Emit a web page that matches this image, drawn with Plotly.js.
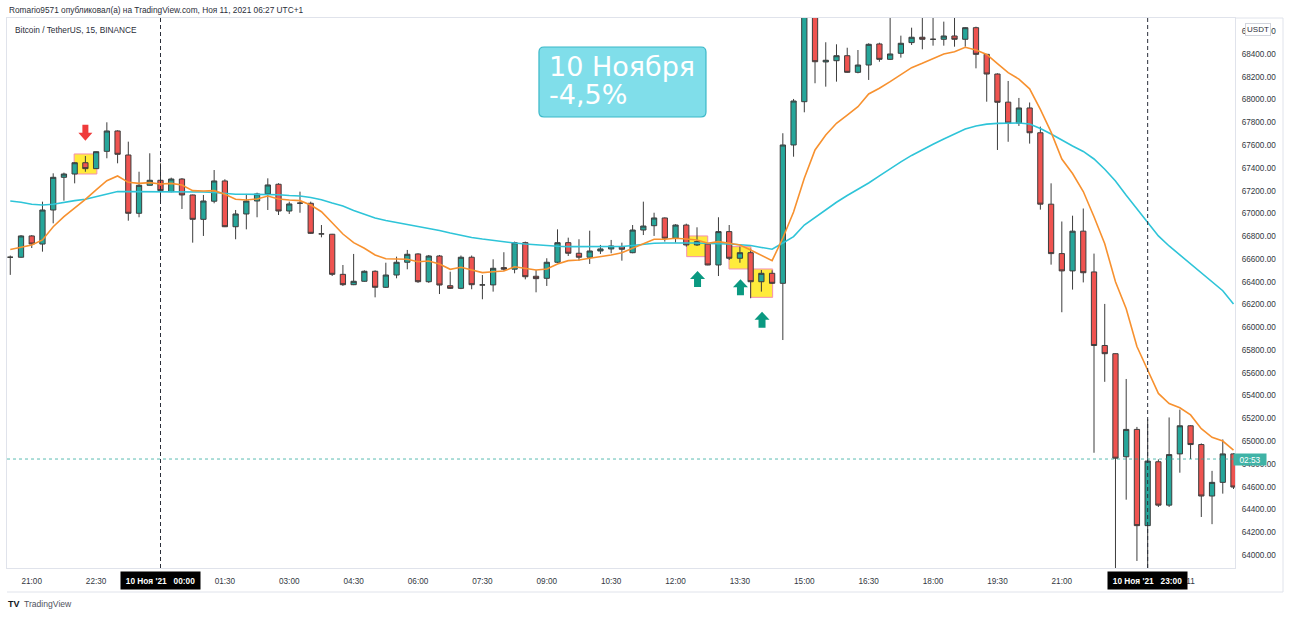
<!DOCTYPE html>
<html><head><meta charset="utf-8">
<script src="https://cdn.plot.ly/plotly-3.0.1.min.js"></script>
<style>html,body{margin:0;padding:0;background:#fff;}#chart{width:1290px;height:617px;}</style>
</head><body><div id="chart"></div>
<script>
// 15-minute candles, BTC/USDT, from 2021-11-09 20:30 to 2021-11-11 01:00 (UTC+1)
const opens = [66615,66615,66802,66731,67030,67317,67346,67445,67393,67545,67724,67513,67001,67247,
67291,67191,67302,67162,66948,67107,67285,66883,66995,67109,
67171,67256,67021,67090,67089,66820,66817,66465,66374,66404,
66492,66351,66459,66571,66644,66400,66626,66365,66342,66615,
66372,66372,66524,66510,66743,66448,66430,66571,66743,66650,
66615,66670,66688,66708,66655,66854,66892,66960,66782,66898,
66723,66731,66547,66840,66606,66655,66400,66474,66386,67601,
67981,68740,68330,68341,68385,68239,68303,68488,68353,68406,
68500,68547,68529,68529,68558,68529,68631,68397,68224,67977,
67793,67926,67708,67081,66647,66495,66844,66486,65840,65768,
64863,65103,64258,64819,64438,64888,65135,64970,64518,64638,
64888];
const highs = [66630,66810,66810,67103,67352,67358,67450,67504,67545,67800,67730,67630,67366,67528,
67440,67314,67310,67165,67162,67381,67300,67030,67171,67182,
67308,67265,67103,67191,67103,66898,66820,66547,66644,66500,
66500,66567,66620,66679,66650,66635,66635,66488,66630,66630,
66459,66597,66659,66752,66752,66503,66606,66860,66787,66773,
66848,66723,66767,66743,66898,67103,67006,66965,66905,66910,
66878,66740,66966,66898,66708,66690,66503,66500,67704,68005,
68790,68780,68503,68485,68455,68435,68494,68499,68740,68561,
68631,68740,68740,68684,68740,68635,68640,68400,68230,68163,
68014,67974,67762,67264,66929,66980,67043,66647,66205,65770,
65546,65125,65192,64840,65208,65277,65140,64980,64739,65015,
64895];
const lows = [66460,66610,66696,66664,66913,67112,67264,67366,67390,67484,67440,66936,66966,67245,
67118,67185,67039,66743,66802,67089,66880,66773,66860,66966,
67030,66986,66995,67006,66820,66790,66450,66363,66370,66400,
66263,66345,66430,66509,66390,66390,66292,66336,66335,66334,
66246,66313,66497,66474,66421,66307,66363,66565,66626,66585,
66556,66644,66650,66585,66650,66810,66802,66752,66743,66708,
66714,66545,66450,66591,66567,66255,66313,66380,65888,67498,
67888,68143,68113,68157,68235,68230,68172,68332,68347,68368,
68479,68441,68473,68473,68464,68464,68274,67981,67557,67629,
67768,67613,67033,66550,66132,66331,66394,64898,65521,63800,
64486,63948,63800,64422,64422,64723,64843,64334,64271,64539,
64580];
const closes = [66615,66802,66731,67030,67317,67346,67445,67393,67542,67724,67519,67001,67247,67291,
67200,67302,67162,66948,67109,67285,66883,66995,67109,67171,
67250,67021,67083,67090,66825,66820,66465,66374,66404,66492,
66351,66459,66571,66641,66400,66626,66371,66342,66615,66374,
66372,66518,66510,66743,66444,66427,66571,66743,66650,66615,
66670,66688,66714,66685,66854,66889,66960,66782,66898,66723,
66752,66547,66840,66606,66655,66400,66474,66386,67601,67987,
68740,68332,68345,68385,68239,68303,68485,68353,68400,68494,
68547,68529,68529,68558,68529,68631,68397,68224,67976,67793,
67926,67708,67081,66647,66495,66844,66479,65840,65768,64850,
65103,64258,64825,64438,64882,65135,64970,64518,64638,64888,
64597];
// moving averages (orange = fast, cyan = slow)
const maFast = [66683,66702,66723,66767,66883,66971,67045,67124,67206,67287,67329,67273,67264,67270,
67258,67264,67250,67200,67197,67200,67168,67124,67118,67127,
67153,67127,67118,67112,67074,67015,66918,66819,66743,66694,
66635,66602,66600,66597,66576,66582,66556,66509,66527,66503,
66480,66488,66494,66532,66518,66503,66512,66556,66585,66591,
66606,66620,66635,66655,66694,66738,66773,66773,66782,66775,
66767,66738,66752,66738,66723,66679,66635,66585,66784,67012,
67308,67557,67689,67791,67864,67937,68049,68099,68157,68216,
68280,68318,68362,68400,68420,68459,68435,68396,68316,68236,
68180,68094,67913,67714,67477,67350,67192,66971,66733,66400,
66163,65831,65625,65419,65331,65293,65230,65109,65034,65001,
64922];
const maSlow = [67109,67098,67080,67074,67080,67098,67112,67124,67147,67171,67192,67191,67191,67191,
67191,67192,67192,67191,67188,67184,67175,67168,67168,67168,
67168,67164,67157,67153,67140,67120,67091,67065,67026,66991,
66960,66938,66920,66907,66889,66872,66850,66828,66806,66789,
66775,66762,66751,66740,66731,66723,66716,66712,66708,66707,
66707,66707,66707,66709,66718,66731,66738,66740,66742,66743,
66740,66736,66736,66731,66725,66718,66701,66685,66740,66796,
66898,66964,67034,67098,67157,67210,67267,67329,67394,67452,
67509,67561,67607,67654,67697,67741,67768,67784,67791,67794,
67794,67785,67746,67697,67641,67592,67544,67478,67388,67285,
67160,67039,66923,66802,66714,66635,66556,66477,66398,66321,
66205];
const tickPos = [2,8,14,20,26,32,38,44,50,56,62,68,74,80,86,92,98,104,110];
const tickLabels = ['21:00','22:30','','01:30','03:00','04:30','06:00','07:30','09:00','10:30','12:00','13:30','15:00','16:30','18:00','19:30','21:00','','11'];
const currentPrice = 64843;

const idx = opens.map((_, k) => k);
const smallFont = 'Liberation Sans, Arial, sans-serif';

const traces = [
  {type:'candlestick', x:idx, open:opens, high:highs, low:lows, close:closes,
   increasing:{line:{color:'#3d3d3d', width:1}, fillcolor:'#26a69a'},
   decreasing:{line:{color:'#3d3d3d', width:1}, fillcolor:'#ef5350'},
   whiskerwidth:0, hoverinfo:'skip'},
  {type:'scatter', mode:'lines', x:idx, y:maSlow, line:{color:'#2ec4d8', width:1.6}, hoverinfo:'skip'},
  {type:'scatter', mode:'lines', x:idx, y:maFast, line:{color:'#f7912f', width:1.6}, hoverinfo:'skip'}
];

function box(x0,x1,y0,y1){
  return {type:'rect', xref:'x', yref:'y', x0:x0, x1:x1, y0:y0, y1:y1, layer:'below',
    fillcolor:'#ffeb3b', line:{color:'#f48fb1', width:1}};
}
function arrow(k, price, up, color){
  const p = up ? 'M0,0 L7.5,-8 L3.5,-8 L3.5,-16 L-3.5,-16 L-3.5,-8 L-7.5,-8 Z'
               : 'M0,0 L-7,8 L-3,8 L-3,16 L3,16 L3,8 L7,8 Z';
  return {type:'path', xref:'x', yref:'y', xsizemode:'pixel', ysizemode:'pixel',
    xanchor:k, yanchor:price, path:p, fillcolor:color, line:{width:0}};
}
const shapes = [
  box(5.95,8.07,67346,67522), box(63.04,65.0,66620,66802), box(66.98,69.03,66512,66708), box(69.0,71.05,66263,66512),
  arrow(7,67639,false,'#ef3b3b'), arrow(64.05,66494,true,'#0a9981'), arrow(68.05,66421,true,'#0a9981'), arrow(70.06,66137,true,'#0a9981'),
  {type:'line', xref:'x', yref:'paper', x0:14, x1:14, y0:0, y1:1, line:{color:'#2a2e39', width:1, dash:'4px,3px'}},
  {type:'line', xref:'x', yref:'paper', x0:106, x1:106, y0:0, y1:1, line:{color:'#2a2e39', width:1, dash:'4px,3px'}},
  {type:'line', xref:'paper', yref:'y', x0:0, x1:1, y0:currentPrice, y1:currentPrice, line:{color:'rgba(38,166,154,0.75)', width:1, dash:'dot'}},
  {type:'path', xref:'paper', yref:'paper', xsizemode:'pixel', ysizemode:'pixel', xanchor:0.5012, yanchor:0.8836,
   path:'M-78.5,35 L78.5,35 Q83.5,35 83.5,30 L83.5,-30 Q83.5,-35 78.5,-35 L-78.5,-35 Q-83.5,-35 -83.5,-30 L-83.5,30 Q-83.5,35 -78.5,35 Z',
   fillcolor:'#80deea', line:{color:'#3bb8c8', width:1.2}},
  {type:'line', xref:'paper', yref:'paper', x0:0, x1:1.0391, y0:-0.04364, y1:-0.04364, line:{color:'#e0e3eb', width:1}},
  {type:'line', xref:'paper', yref:'paper', x0:1.0391, x1:1.0391, y0:-0.04364, y1:1, line:{color:'#e0e3eb', width:1}},
  {type:'line', xref:'paper', yref:'paper', x0:1, x1:1.0391, y0:1, y1:1, line:{color:'#e0e3eb', width:1}}
];

const annotations = [
  {xref:'paper', yref:'paper', x:0, y:1.01364, xanchor:'left', yanchor:'middle', showarrow:false,
   text:'Romario9571 опубликовал(а) на TradingView.com, Ноя 11, 2021 06:27 UTC+1', font:{family:smallFont, size:8.3, color:'#2a2e39'}},
  {xref:'paper', yref:'paper', x:0.0046, y:0.97909, xanchor:'left', yanchor:'middle', showarrow:false,
   text:'Bitcoin / TetherUS, 15, BINANCE', font:{family:smallFont, size:8.3, color:'#2a2e39'}},
  {xref:'paper', yref:'paper', x:-0.0005, y:-0.06545, xanchor:'left', yanchor:'middle', showarrow:false,
   text:'<b>TV</b>', font:{family:smallFont, size:9, color:'#131722'}},
  {xref:'paper', yref:'paper', x:0.0123, y:-0.06545, xanchor:'left', yanchor:'middle', showarrow:false,
   text:'TradingView', font:{family:smallFont, size:8.6, color:'#50535e'}},
  {xref:'paper', yref:'paper', x:0.4395, y:(568-66.5)/550, xanchor:'left', yanchor:'middle', showarrow:false,
   text:'10 Ноября', font:{family:'DejaVu Sans, sans-serif', size:27, color:'#ffffff'}},
  {xref:'paper', yref:'paper', x:0.4395, y:(568-94.5)/550, xanchor:'left', yanchor:'middle', showarrow:false,
   text:'-4,5%', font:{family:'DejaVu Sans, sans-serif', size:27, color:'#ffffff'}},
  {xref:'x', yref:'paper', x:14, y:-0.0236, xanchor:'center', yanchor:'middle', showarrow:false,
   width:79, height:17, bgcolor:'#000000', borderpad:0,
   text:'<b>10 Ноя \'21\u00a0\u00a0\u00a000:00</b>', font:{family:smallFont, size:8.3, color:'#ffffff'}},
  {xref:'x', yref:'paper', x:106, y:-0.0236, xanchor:'center', yanchor:'middle', showarrow:false,
   width:79, height:17, bgcolor:'#000000', borderpad:0,
   text:'<b>10 Ноя \'21\u00a0\u00a0\u00a023:00</b>', font:{family:smallFont, size:8.3, color:'#ffffff'}},
  {xref:'paper', yref:'y', x:1.0122, y:currentPrice, xanchor:'center', yanchor:'middle', showarrow:false,
   width:32, height:11, bgcolor:'#3fb3a6', borderpad:0,
   text:'02:53', font:{family:smallFont, size:8.3, color:'#ffffff'}},
  {xref:'paper', yref:'paper', x:1.0187, y:0.979, xanchor:'center', yanchor:'middle', showarrow:false,
   width:24, height:11, bgcolor:'#ffffff', bordercolor:'#d1d4dc', borderwidth:1, borderpad:0,
   text:'USDT', font:{family:smallFont, size:8, color:'#2a2e39'}}
];

const layout = {
  width:1290, height:617,
  margin:{l:7, r:55, t:18, b:49, pad:0},
  paper_bgcolor:'#ffffff', plot_bgcolor:'#ffffff',
  showlegend:false,
  xaxis:{type:'linear', range:[-0.306,114.14], tickmode:'array', tickvals:tickPos, ticktext:tickLabels,
    showgrid:false, zeroline:false, showline:true, linecolor:'#e0e3eb', mirror:true, ticks:'',
    ticklabelstandoff:5, tickfont:{family:smallFont, size:8.2, color:'#333842'},
    rangeslider:{visible:false}, fixedrange:true},
  yaxis:{side:'right', range:[63886,68716], tickmode:'linear', tick0:0, dtick:200, tickformat:'.2f',
    showgrid:false, zeroline:false, showline:true, linecolor:'#e0e3eb', mirror:true, ticks:'',
    ticklabelstandoff:4, tickfont:{family:smallFont, size:8.2, color:'#333842'}, fixedrange:true},
  shapes:shapes,
  annotations:annotations
};

Plotly.newPlot('chart', traces, layout, {staticPlot:true, displayModeBar:false});
</script>
</body></html>
